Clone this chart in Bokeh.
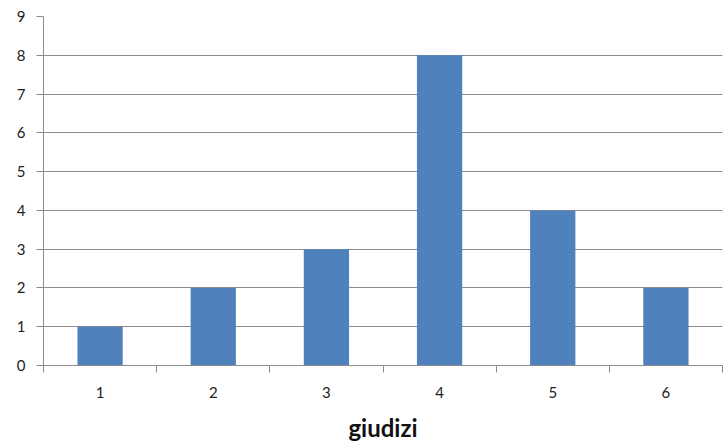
from bokeh.plotting import figure
from bokeh.models import FixedTicker, Range1d
from bokeh.embed import file_html
from bokeh.resources import INLINE

categories = [1, 2, 3, 4, 5, 6]
counts = [1, 2, 3, 8, 4, 2]
y_ticks = [0, 1, 2, 3, 4, 5, 6, 7, 8, 9]

FONT = "Lato"
GRID = "#8c8c8c"

p = figure(width=723, height=444, output_backend="svg", toolbar_location=None,
           x_range=Range1d(0.5, 6.5), y_range=Range1d(0, 9),
           min_border_left=43, min_border_right=1, min_border_top=16, min_border_bottom=79)
p.outline_line_color = None

p.vbar(x=categories, top=counts, width=0.4, color="#4F81BD", line_color=None)

# x axis
p.xaxis.ticker = FixedTicker(ticks=categories,
                             minor_ticks=[c - 0.5 for c in categories] + [categories[-1] + 0.5])
p.xaxis.major_tick_line_color = None
p.xaxis.major_tick_out = 0
p.xaxis.major_tick_in = 0
p.xaxis.minor_tick_out = 7
p.xaxis.minor_tick_in = 0
p.xaxis.minor_tick_line_color = GRID
p.xaxis.axis_line_color = GRID
p.xaxis.major_label_standoff = 14
p.xaxis.major_label_text_font = FONT
p.xaxis.major_label_text_font_size = "15px"
p.xaxis.major_label_text_color = "#222222"
p.xaxis.axis_label = "giudizi"
p.xaxis.axis_label_text_font = FONT
p.xaxis.axis_label_text_font_size = "24px"
p.xaxis.axis_label_text_font_style = "bold"
p.xaxis.axis_label_text_color = "#111111"
p.xaxis.axis_label_standoff = 12
p.xgrid.grid_line_color = None

# y axis
p.yaxis.ticker = FixedTicker(ticks=y_ticks)
p.yaxis.minor_tick_line_color = None
p.yaxis.major_tick_out = 7
p.yaxis.major_tick_in = 0
p.yaxis.major_tick_line_color = GRID
p.yaxis.axis_line_color = GRID
p.yaxis.major_label_standoff = 11
p.yaxis.major_label_text_font = FONT
p.yaxis.major_label_text_font_size = "15px"
p.yaxis.major_label_text_color = "#222222"
p.ygrid.grid_line_color = GRID
p.ygrid.grid_line_width = 1

open("out.html", "w").write(file_html(p, INLINE))
